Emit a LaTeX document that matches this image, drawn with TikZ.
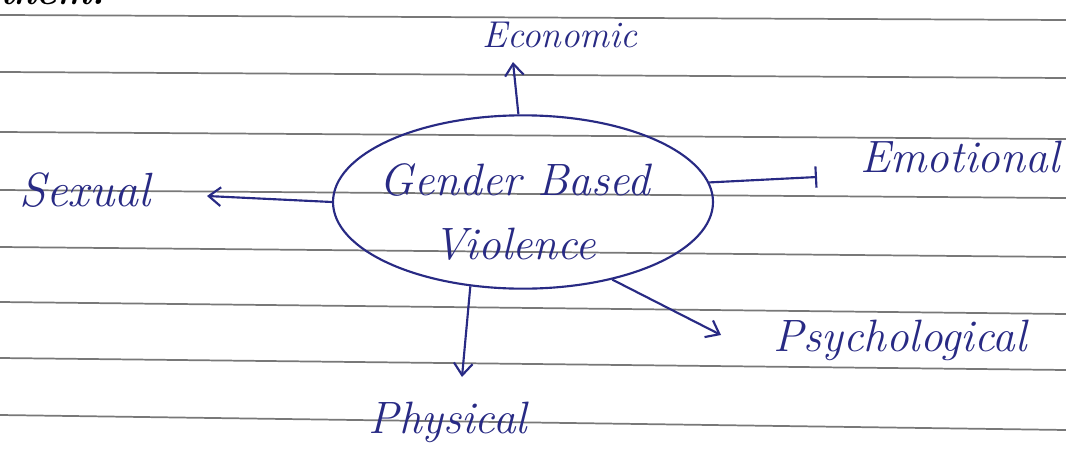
\documentclass[tikz,border=0pt]{standalone}
\usetikzlibrary{arrows.meta,shapes.geometric}
\definecolor{inkblue}{RGB}{40,42,132}
\definecolor{ruleline}{RGB}{120,120,120}
\begin{document}
\begin{tikzpicture}[x=0.75pt,y=-0.75pt,
  ink/.style={draw=inkblue, line width=1.6pt},
  tipA/.style={-{Straight Barb[length=9pt,width=14pt,line width=1.6pt]}},
  tipBar/.style={-{Bar[width=16pt,line width=1.6pt]}},
  lbl/.style={text=inkblue, font=\fontsize{34}{38}\selectfont\itshape, inner sep=0pt},
  ruled/.style={draw=ruleline, line width=1.3pt}]
\useasboundingbox[fill=white] (0,0) rectangle (1066,464);
\begin{scope}
\clip (0,0) rectangle (1066,464);
\draw[ruled] (0,15) -- (1066,20);
\draw[ruled] (0,72) -- (1066,78);
\draw[ruled] (0,132) -- (1066,139);
\draw[ruled] (0,190) -- (1066,198);
\draw[ruled] (0,247) -- (1066,257);
\draw[ruled] (0,302) -- (1066,314);
\draw[ruled] (0,358) -- (1066,370);
\draw[ruled] (0,415) -- (1066,430);
\node[lbl, text=black, font=\fontsize{28}{32}\selectfont\bfseries\itshape, anchor=base west] (them) at (0,4) {them.};
\end{scope}
% central ellipse
\node[ink, ellipse, minimum width=285pt, minimum height=130pt, inner sep=0pt] (gbv) at (523,202) {};
\node[lbl, align=center, font=\fontsize{34}{48}\selectfont\itshape] (gbvt) at (515,212) {Gender Based\\Violence};
% labels
\node[lbl, font=\fontsize{28}{32}\selectfont\itshape] (econ) at (560,35) {Economic};
\node[lbl, font=\fontsize{36}{40}\selectfont\itshape] (sex) at (85,190) {Sexual};
\node[lbl] (emo) at (960,157) {Emotional};
\node[lbl] (psy) at (900,340) {Psychological};
\node[lbl] (phy) at (448,422) {Physical};
% arrow ends
\coordinate (econEnd) at (513,62);
\coordinate (sexEnd) at (207,196);
\coordinate (emoEnd) at (817,177);
\coordinate (phyEnd) at (462,377);
\coordinate (psyEnd) at (721,335);
% connectors
\draw[ink,tipA] (gbv.93) -- (econEnd);
\draw[ink,tipA] (gbv.180) -- (sexEnd);
\draw[ink,tipBar] (gbv.6) -- (emoEnd);
\draw[ink,tipA] (gbv.238) -- (phyEnd);
\draw[ink,tipA] (gbv.319) -- (psyEnd);
\end{tikzpicture}
\end{document}
